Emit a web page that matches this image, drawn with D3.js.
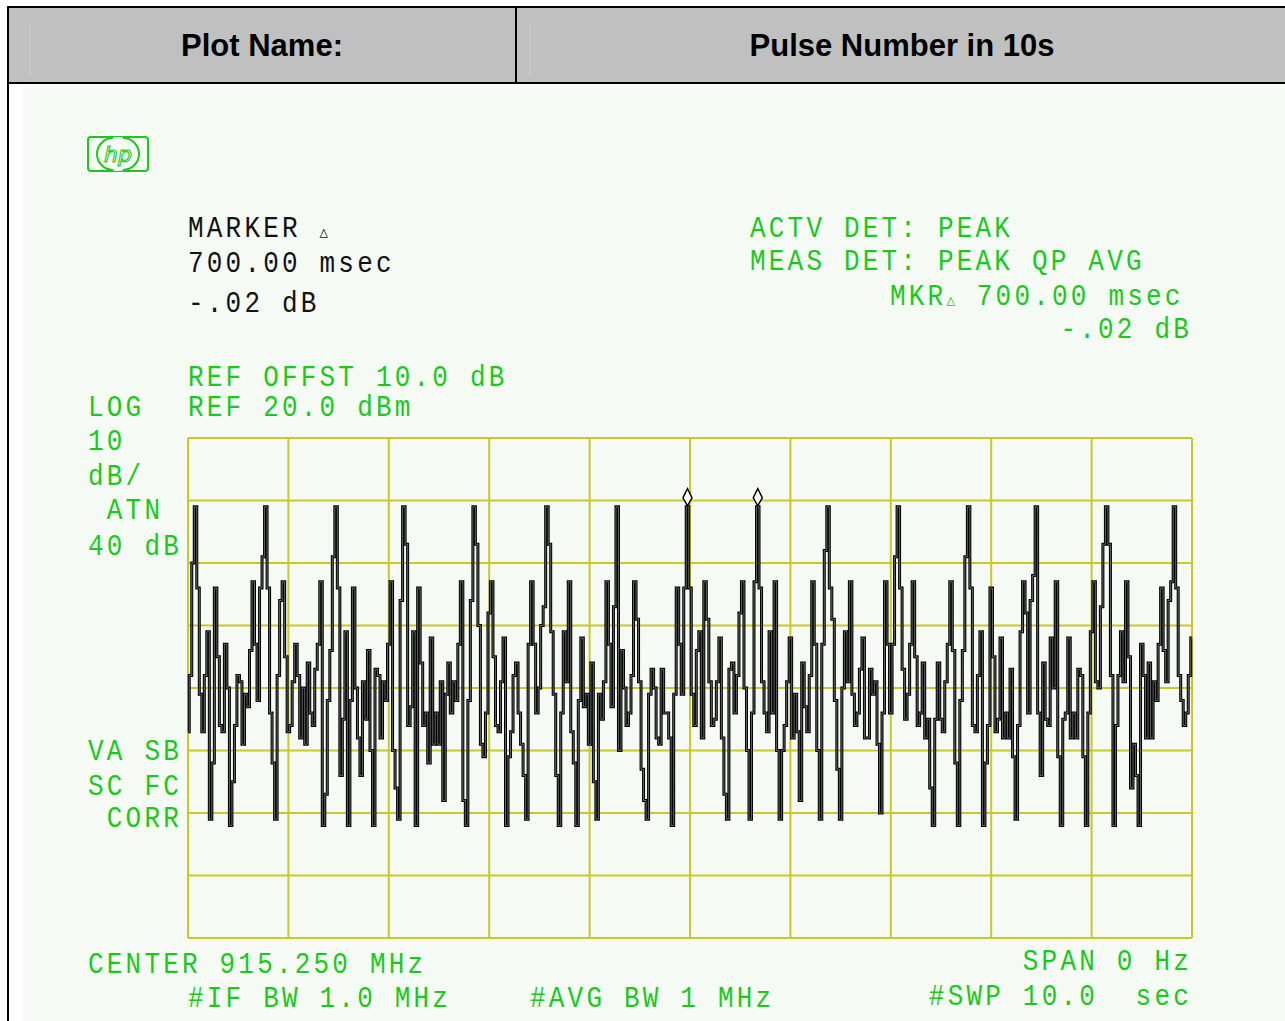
<!DOCTYPE html>
<html>
<head>
<meta charset="utf-8">
<script src="https://cdn.jsdelivr.net/npm/d3@7"></script>
<style>
  body { margin: 0; background: #fff; }
  svg { display: block; }
</style>
</head>
<body>
<script>
// zero span sweep, 401 points over 10 s, values in dBm
var sweepSec = 10;
var refLevel = 20, dbPerDiv = 10, nDivX = 10, nDivY = 8;

var trace = [
  -27, -18, 0, 9,
  -4, -21, -27, -18, -11, -41, -32, -4, -15, -26, -27, -13, -20, -42, -35, -26, -18, -19, -29, -21, -23, -14, -3, -13, -22, -4, 1,
  9,
  -4, -24, -32, -41, -18, -6, -3, -15, -27, -26, -19, -13, -18, -28, -20, -29, -16, -24, -26, -17, -13, -3, -42, -37, -22, -14, 1,
  9,
  -4, -34, -25, -11, -42, -22, -4, -20, -28, -34, -19, -25, -14, -30, -42, -17, -18, -28, -19, -22, -13, -3, -30, -36, -41, -6,
  9,
  3, -26, -23, -11, -42, -4, -16, -26, -24, -32, -12, -29, -24, -29, -19, -38, -21, -16, -24, -19, -22, -13, -3, -38, -42, -22, -6,
  9,
  3, -10, -29, -31, -24, -8, -3, -15, -26, -27, -19, -12, -42, -31, -27, -18, -16, -24, -29, -34, -41, -13, -3, -13, -24, -20, -10, -7,
  9,
  3, -11, -21, -34, -42, -24, -11, -19, -3, -27, -32, -42, -22, -12, -23, -21, -29, -16, -35, -41, -21, -25, -19, -3, -13, -23, -7,
  9,
  -30, -14, -20, -26, -24, -18, -3, -9, -19, -33, -38, -41, -21, -17, -20, -28, -29, -17, -24, -24, -28, -42, -21, -4, -13, -21, -4,
  9,
  -4, -21, -26, -14, -11, -28, -3, -9, -19, -26, -25, -19, -12, -28, -37, -41, -17, -16, -24, -18, -8, -3, -20, -30, -41, -24, -3,
  9,
  -4, -19, -24, -27, -11, -24, -3, -30, -41, -30, -26, -19, -12, -28, -21, -27, -38, -16, -23, -27, -18, -3, -13, -30, -41, -13, 2,
  9,
  -4, -9, -22, -33, -41, -20, -11, -19, -3, -21, -26, -24, -17, -12, -28, -28, -17, -21, -19, -29, -40, -24, -3, -13, -24, -13, 1,
  9,
  -4, -17, -25, -21, -13, -3, -15, -26, -24, -16, -28, -25, -36, -42, -25, -16, -25, -27, -19, -13, -3, -14, -32, -42, -22, -14, 1,
  9,
  -4, -26, -27, -18, -11, -42, -32, -26, -4, -15, -27, -25, -12, -28, -24, -28, -17, -31, -41, -26, -11, -3, -8, -24, -6, -2,
  9,
  -24, -34, -16, -25, -26, -12, -20, -3, -31, -42, -25, -24, -12, -28, -24, -28, -17, -18, -31, -42, -24, -11, -3, -19, -20, -7, 3,
  9,
  3, -18, -42, -26, -18, -11, -19, -3, -15, -36, -29, -34, -42, -13, -18, -28, -16, -28, -19, -22, -13, -4, -14, -19, -6, -3,
  9,
  -4, -18, -22, -26, -24, -18, -12
];

var markerIdx = [199, 227];

var W = 1285, H = 1021;
var green = "#1cc81c", grid = "#c8c828", ink = "#111", screen = "#f5faf5";

var svg = d3.select("body").append("svg")
    .attr("width", W)
    .attr("height", H);

// table header
svg.append("rect").attr("x", 8).attr("y", 7).attr("width", W).attr("height", 76)
    .attr("fill", "#c0c0c0").attr("stroke", "#000").attr("stroke-width", 2);
svg.append("line").attr("x1", 30).attr("x2", 30).attr("y1", 22).attr("y2", 76)
    .attr("stroke", "#d0d0d0").attr("stroke-width", 1);
svg.append("line").attr("x1", 530).attr("x2", 530).attr("y1", 22).attr("y2", 76)
    .attr("stroke", "#d0d0d0").attr("stroke-width", 1);
svg.append("line").attr("x1", 516).attr("x2", 516).attr("y1", 7).attr("y2", 83)
    .attr("stroke", "#000").attr("stroke-width", 2);
svg.append("line").attr("x1", 8).attr("x2", 8).attr("y1", 83).attr("y2", H)
    .attr("stroke", "#000").attr("stroke-width", 2);

svg.append("text").attr("x", 262).attr("y", 56).attr("text-anchor", "middle")
    .style("font-family", "'Liberation Sans', Arial, sans-serif")
    .style("font-weight", "bold").style("font-size", "31px")
    .text("Plot Name:");
svg.append("text").attr("x", 902).attr("y", 56).attr("text-anchor", "middle")
    .style("font-family", "'Liberation Sans', Arial, sans-serif")
    .style("font-weight", "bold").style("font-size", "31px")
    .text("Pulse Number in 10s");

// screen background
svg.append("rect").attr("x", 23).attr("y", 87).attr("width", W - 23).attr("height", H - 87)
    .attr("fill", screen);

var x = d3.scaleLinear().domain([0, sweepSec]).range([188, 1192]);
var y = d3.scaleLinear().domain([refLevel - dbPerDiv * nDivY, refLevel]).range([938, 438]);

// graticule
var g = svg.append("g");
g.selectAll("line.v")
  .data(d3.range(nDivX + 1))
  .enter().append("line")
    .attr("class", "v")
    .attr("x1", function(d) { return x(d * sweepSec / nDivX); })
    .attr("x2", function(d) { return x(d * sweepSec / nDivX); })
    .attr("y1", y.range()[0]).attr("y2", y.range()[1])
    .attr("stroke", grid).attr("stroke-width", 2);
g.selectAll("line.h")
  .data(d3.range(nDivY + 1))
  .enter().append("line")
    .attr("class", "h")
    .attr("x1", x.range()[0]).attr("x2", x.range()[1])
    .attr("y1", function(d) { return y(refLevel - d * dbPerDiv); })
    .attr("y2", function(d) { return y(refLevel - d * dbPerDiv); })
    .attr("stroke", grid).attr("stroke-width", 2);

// trace
var tx = function(i) { return x(i * sweepSec / (trace.length - 1)); };
var line = d3.line()
    .x(function(d, i) { return tx(i); })
    .y(function(d) { return y(d); })
    .curve(d3.curveStep);

svg.append("path").datum(trace)
    .attr("d", line).attr("fill", "none")
    .attr("stroke", "#000").attr("stroke-width", 3);
svg.append("path").datum(trace)
    .attr("d", line).attr("fill", "none")
    .attr("stroke", "#7c7c7c").attr("stroke-width", 0.8);

// delta markers
svg.selectAll("path.mk")
  .data(markerIdx)
  .enter().append("path")
    .attr("class", "mk")
    .attr("transform", function(d) { return "translate(" + tx(d) + "," + y(trace[d]) + ")"; })
    .attr("d", "M0,-1 L-4.5,-9 L0,-18 L4.5,-9 Z")
    .attr("fill", "#fff").attr("stroke", "#000").attr("stroke-width", 1.5);

// annotation text, plotter style
function hp(str, px, py, color, anchor) {
  return svg.append("text")
      .attr("transform", "translate(" + px + "," + py + ") scale(1,1.12)")
      .attr("text-anchor", anchor || "start")
      .attr("fill", color)
      .style("font-family", "'Liberation Mono', 'DejaVu Sans Mono', monospace")
      .style("font-size", "26px")
      .style("letter-spacing", "3.2px")
      .style("white-space", "pre")
      .text(str);
}

hp("MARKER ", 188, 237, ink).append("tspan").style("font-size", "14px").text("\u25B3");
hp("700.00 msec", 188, 272, ink);
hp("-.02 dB", 188, 312, ink);

hp("ACTV DET: PEAK", 750, 237, green);
hp("MEAS DET: PEAK QP AVG", 750, 270, green);
var mk = hp("MKR", 890, 305, green);
mk.append("tspan").style("font-size", "14px").text("\u25B3");
mk.append("tspan").text(" 700.00 msec");
hp("-.02 dB", 1192, 338, green, "end");

hp("REF OFFST 10.0 dB", 188, 386, green);
hp("REF 20.0 dBm", 188, 416, green);
hp("LOG", 88, 416, green);
hp("10", 88, 450, green);
hp("dB/", 88, 485, green);
hp(" ATN", 88, 519, green);
hp("40 dB", 88, 555, green);
hp("VA SB", 88, 760, green);
hp("SC FC", 88, 795, green);
hp(" CORR", 88, 827, green);

hp("CENTER 915.250 MHz", 88, 973, green);
hp("SPAN 0 Hz", 1192, 970, green, "end");
hp("#IF BW 1.0 MHz", 188, 1007, green);
hp("#AVG BW 1 MHz", 530, 1007, green);
hp("#SWP 10.0  sec", 1192, 1005, green, "end");

// hp logo
var logo = svg.append("g").attr("fill", "none").attr("stroke", green).attr("stroke-width", 2);
logo.append("rect").attr("x", 88).attr("y", 137).attr("width", 60).attr("height", 34).attr("rx", 3);
logo.append("circle").attr("cx", 118).attr("cy", 154).attr("r", 17).attr("fill", screen).attr("stroke", "none");
logo.append("path").attr("d", "M113,138 A16,16 0 0 0 113,170 M123,138 A16,16 0 0 1 123,170");
svg.append("text").attr("x", 118).attr("y", 162).attr("text-anchor", "middle")
    .attr("fill", "none").attr("stroke", green).attr("stroke-width", 1.1)
    .style("font-family", "'DejaVu Sans', sans-serif").style("font-style", "italic")
    .style("font-size", "22px").text("hp");
</script>
</body>
</html>
